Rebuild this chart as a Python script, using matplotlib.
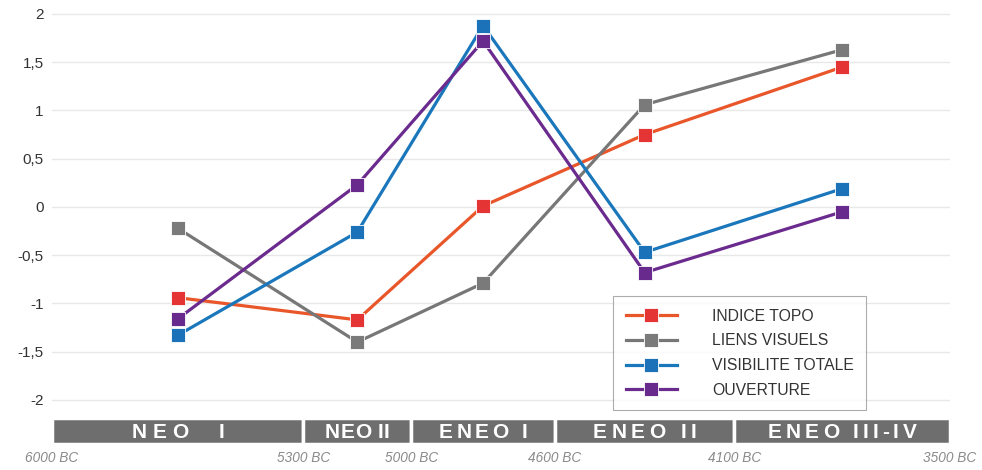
import matplotlib
matplotlib.use("Agg")
import matplotlib.pyplot as plt
from matplotlib import transforms
from matplotlib.font_manager import FontProperties
from matplotlib.ticker import FuncFormatter

plt.rcParams['font.family'] = ['Liberation Sans', 'DejaVu Sans']

# period boundaries (years BC) and names
bounds = [6000, 5300, 5000, 4600, 4100, 3500]
periods = ["NEO  I", "NEO II", "ENEO I", "ENEO II", "ENEO III-IV"]
tracking = [6, 0.5, 3.5, 4.5, 4]   # letter spacing in px, per label

indice_topo = [-0.94, -1.17, 0.01, 0.75, 1.45]
liens_visuels = [-0.22, -1.40, -0.79, 1.06, 1.63]
visibilite_totale = [-1.33, -0.26, 1.88, -0.47, 0.19]
ouverture = [-1.16, 0.23, 1.72, -0.68, -0.05]

series = [
    ("INDICE TOPO", indice_topo, "#e8562a", "#e53434"),
    ("LIENS VISUELS", liens_visuels, "#777777", "#7a7a7a"),
    ("VISIBILITE TOTALE", visibilite_totale, "#1b77bb", "#1b72b8"),
    ("OUVERTURE", ouverture, "#6b2a8e", "#682a8c"),
]

# points sit at the middle of each period, x = -year
mids = [-(a + b) / 2 for a, b in zip(bounds[:-1], bounds[1:])]

W, H = 982, 470
fig = plt.figure(figsize=(W / 100, H / 100), dpi=100)

ax = fig.add_axes([52 / W, (H - 410) / H, 898 / W, 405 / H])
ax.set_xlim(-bounds[0], -bounds[-1])
ax.set_ylim(-2.104, 2.093)
for s in ax.spines.values():
    s.set_visible(False)
ax.set_yticks([2, 1.5, 1, 0.5, 0, -0.5, -1, -1.5, -2])
ax.yaxis.set_major_formatter(FuncFormatter(lambda v, p: ("%g" % v).replace(".", ",")))
ax.tick_params(axis='y', length=0, pad=6, labelsize=11, labelcolor="#333333")
ax.set_xticks([])
ax.grid(axis='y', color="#e8e8e8", linewidth=1)
ax.set_axisbelow(True)

for name, vals, lc, mc in series:
    ax.plot(mids, vals, color=lc, linewidth=2.3, marker='s', markersize=10,
            markerfacecolor=mc, markeredgecolor="white", markeredgewidth=0.6,
            label=name)

leg = ax.legend(loc='upper left', bbox_to_anchor=(613 / W, 1 - 296 / H),
                bbox_transform=fig.transFigure, fancybox=False, frameon=True,
                fontsize=11.3, handlelength=3.3, handletextpad=2.2,
                borderpad=0.8, labelspacing=0.62, borderaxespad=0)
leg.get_frame().set_edgecolor("#999999")
leg.get_frame().set_linewidth(0.8)
for t in leg.get_texts():
    t.set_color("#333333")

# period band
ax2 = fig.add_axes([52 / W, (H - 444) / H, 898 / W, 26 / H])
ax2.set_xlim(-bounds[0], -bounds[-1])
ax2.set_ylim(0, 1)
ax2.axis('off')

renderer = fig.canvas.get_renderer()
prop = FontProperties(family='Liberation Sans', weight='bold', size=15)


def width_px(s):
    if not s:
        return 0.0
    w, h, d = renderer.get_text_width_height_descent(s, prop, ismath=False)
    return w


for i, name in enumerate(periods):
    left = -bounds[i]
    width = bounds[i] - bounds[i + 1]
    ax2.barh(0.5, width, left=left, height=1, color="#6e6e6e",
             edgecolor="white", linewidth=2.5)
    tr = tracking[i]
    total = width_px(name) + tr * (len(name) - 1)
    for k, ch in enumerate(name):
        if ch == " ":
            continue
        dx = width_px(name[:k]) + tr * k - total / 2
        off = transforms.offset_copy(ax2.transData, fig=fig, x=dx, y=0, units='dots')
        ax2.text(mids[i], 0.5, ch, fontproperties=prop, color="white",
                 ha='left', va='center_baseline', transform=off)

for b in bounds:
    ax2.text(-b, -0.55, "%d BC" % b, color="#8a8a8a", fontsize=9.8,
             style='italic', ha='center', va='center', clip_on=False)

fig.savefig("out.png", dpi=100)
